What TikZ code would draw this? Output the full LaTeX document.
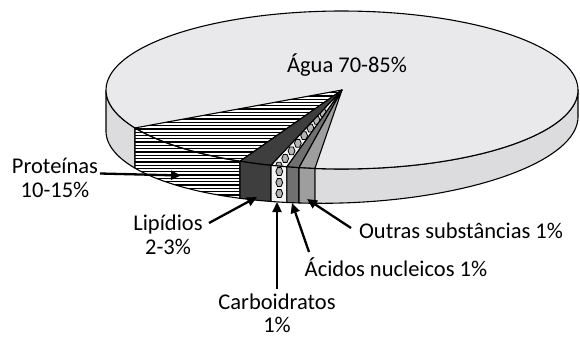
\documentclass[tikz,border=0pt]{standalone}
\usepackage{fontspec}
\setmainfont{Carlito}
\usetikzlibrary{arrows.meta}
\definecolor{watertop}{RGB}{233,233,235}
\definecolor{waterside}{RGB}{220,220,222}
\definecolor{lipidc}{RGB}{62,62,62}
\definecolor{nuclc}{RGB}{112,112,112}
\definecolor{outrc}{RGB}{158,158,158}
\definecolor{carbbg}{RGB}{244,244,244}
\definecolor{hexfill}{RGB}{180,180,180}
\begin{document}
\begin{tikzpicture}[x=1pt,y=-1pt,
  declare function={ex(\t)=342+236*cos(\t); eyt(\t)=90+79*sin(\t); eyb(\t)=124+79*sin(\t)-7.08*cos(\t);},
  edge/.style={draw=black,line width=1.1pt,line join=round},
  lbl/.style={font=\fontsize{22.5}{23.6}\selectfont,align=center,anchor=base,inner sep=0pt},
  arr/.style={line width=2.3pt,-{Triangle[length=10pt,width=9pt]}},
  hexa/.pic={\filldraw[fill=hexfill,draw=black,line width=0.8pt] (3.4,0)--(1.8,3.9)--(-1.8,3.9)--(-3.4,0)--(-1.8,-3.9)--(1.8,-3.9)--cycle;}
]
\useasboundingbox (0,0) rectangle (580,337);
\def\tO{96.6}\def\tN{100.5}\def\tC{103.5}\def\tL{107.5}\def\tP{115.6}\def\tW{151.3}
\coordinate (ctr) at (342,90);
% water side faces
\filldraw[edge,fill=waterside] plot[domain=0:\tO,samples=40] ({ex(\x)},{eyt(\x)}) -- plot[domain=\tO:0,samples=40] ({ex(\x)},{eyb(\x)}) -- cycle;
\filldraw[edge,fill=waterside] plot[domain=\tW:180,samples=30] ({ex(\x)},{eyt(\x)}) -- plot[domain=180:\tW,samples=30] ({ex(\x)},{eyb(\x)}) -- cycle;
% top ellipse
\filldraw[edge,fill=watertop] plot[domain=0:360,samples=150] ({ex(\x)},{eyt(\x)}) -- cycle;
% protein top and side (hatched)
\begin{scope}
\clip (ctr) -- plot[domain=\tP:\tW,samples=30] ({ex(\x)},{eyt(\x)}) -- cycle;
\fill[white] (100,80) rectangle (350,215);
\foreach \k in {0,...,40} \draw[line width=1.3pt] (100,{86+3.3*\k}) -- (350,{86+3.3*\k});
\end{scope}
\begin{scope}
\clip plot[domain=\tP:\tW,samples=30] ({ex(\x)},{eyt(\x)}) -- plot[domain=\tW:\tP,samples=30] ({ex(\x)},{eyb(\x)}) -- cycle;
\fill[white] (100,80) rectangle (350,215);
\foreach \k in {0,...,40} \draw[line width=1.3pt] (100,{86+3.3*\k}) -- (350,{86+3.3*\k});
\end{scope}
\draw[edge] (ctr) -- plot[domain=\tP:\tW,samples=30] ({ex(\x)},{eyt(\x)}) -- cycle;
\draw[edge] plot[domain=\tP:\tW,samples=30] ({ex(\x)},{eyt(\x)}) -- plot[domain=\tW:\tP,samples=30] ({ex(\x)},{eyb(\x)}) -- cycle;
% lipid
\filldraw[edge,fill=lipidc] (ctr) -- plot[domain=\tL:\tP,samples=10] ({ex(\x)},{eyt(\x)}) -- cycle;
\filldraw[edge,fill=lipidc] plot[domain=\tL:\tP,samples=10] ({ex(\x)},{eyt(\x)}) -- plot[domain=\tP:\tL,samples=10] ({ex(\x)},{eyb(\x)}) -- cycle;
% carbohydrates
\begin{scope}
\clip (ctr) -- plot[domain=\tC:\tL,samples=10] ({ex(\x)},{eyt(\x)}) -- cycle;
\fill[carbbg] (250,80) rectangle (350,170);
\foreach \f in {0.3,0.4,...,1.0} \pic at ({342-63.1*\f},{90+76.1*\f}) {hexa};
\end{scope}
\draw[edge] (ctr) -- plot[domain=\tC:\tL,samples=10] ({ex(\x)},{eyt(\x)}) -- cycle;
\filldraw[edge,fill=carbbg] plot[domain=\tC:\tL,samples=10] ({ex(\x)},{eyt(\x)}) -- plot[domain=\tL:\tC,samples=10] ({ex(\x)},{eyb(\x)}) -- cycle;
\pic at (279.3,171.5) {hexa};
\pic at (279.3,182.5) {hexa};
\pic at (279.3,193.5) {hexa};
% nucleic acids
\filldraw[edge,fill=nuclc] (ctr) -- plot[domain=\tN:\tC,samples=10] ({ex(\x)},{eyt(\x)}) -- cycle;
\filldraw[edge,fill=nuclc] plot[domain=\tN:\tC,samples=10] ({ex(\x)},{eyt(\x)}) -- plot[domain=\tC:\tN,samples=10] ({ex(\x)},{eyb(\x)}) -- cycle;
% other substances
\filldraw[edge,fill=outrc] (ctr) -- plot[domain=\tO:\tN,samples=10] ({ex(\x)},{eyt(\x)}) -- cycle;
\filldraw[edge,fill=outrc] plot[domain=\tO:\tN,samples=10] ({ex(\x)},{eyt(\x)}) -- plot[domain=\tN:\tO,samples=10] ({ex(\x)},{eyb(\x)}) -- cycle;
% labels (base anchor = baseline of the last line)
\node[lbl] (agua) at (347,72.5) {Água 70-85\%};
\node[lbl] (prot) at (55,197.3) {Proteínas\\10-15\%};
\node[lbl] (lip) at (168,254.3) {Lipídios\\2-3\%};
\node[lbl,font=\fontsize{22.5}{22.5}\selectfont] (carb) at (277,332) {Carboidratos\\1\%};
\node[lbl] (acid) at (396,276.5) {Ácidos nucleicos 1\%};
\node[lbl] (outr) at (461,238.3) {Outras substâncias 1\%};
% arrow ends
\coordinate (protS) at (100,173.5); \coordinate (protT) at (181,175.5);
\coordinate (lipS) at (209,223); \coordinate (lipT) at (257,197);
\coordinate (carbS) at (277,289); \coordinate (carbT) at (277,202);
\coordinate (acidS) at (309,252); \coordinate (acidT) at (292,203);
\coordinate (outrS) at (351,228); \coordinate (outrT) at (307,199);
\draw[arr] (protS) -- (protT);
\draw[arr] (lipS) -- (lipT);
\draw[arr] (carbS) -- (carbT);
\draw[arr] (acidS) -- (acidT);
\draw[arr] (outrS) -- (outrT);
\end{tikzpicture}
\end{document}
